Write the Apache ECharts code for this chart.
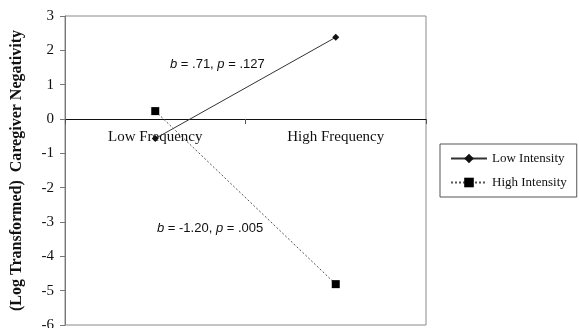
<!DOCTYPE html>
<html>
<head>
<meta charset="utf-8">
<script src="https://cdn.jsdelivr.net/npm/echarts@6/dist/echarts.min.js"></script>
<style>
  html, body { margin: 0; padding: 0; background: #fff; }
  #chart { width: 579px; height: 328px; }
</style>
</head>
<body>
<div id="chart"></div>
<script>
// data
var categories = ['Low Frequency', 'High Frequency'];
var lowIntensity = [-0.57, 2.38];
var highIntensity = [0.23, -4.81];
var yTicks = { min: -6, max: 3, interval: 1 };

var serif = '"Liberation Serif", "DejaVu Serif", serif';
var sans = '"Liberation Sans", "Noto Sans", sans-serif';

var chart = echarts.init(document.getElementById('chart'));

var option = {
  backgroundColor: '#ffffff',
  animation: false,
  grid: {
    left: 65,
    right: 153,
    top: 16,
    bottom: 3,
    outerBoundsMode: 'none',
    containLabel: false,
    show: true,
    borderColor: '#8a8a8a',
    borderWidth: 1
  },
  legend: {
    orient: 'vertical',
    left: 440,
    top: 144,
    width: 137,
    padding: [8, 10, 8, 10],
    itemGap: 11,
    itemWidth: 36,
    itemHeight: 12,
    borderColor: '#555',
    borderWidth: 1,
    textStyle: { fontFamily: serif, fontSize: 13, color: '#111' },
    data: ['Low Intensity', 'High Intensity']
  },
  xAxis: {
    type: 'category',
    data: categories,
    position: 'bottom',
    offset: 0,
    axisLine: { onZero: false, lineStyle: { color: '#111', width: 1.2 } },
    axisTick: { show: true, length: 5, lineStyle: { color: '#555' } },
    axisLabel: { fontFamily: serif, fontSize: 15, color: '#111', margin: 11 },
    splitLine: { show: false }
  },
  yAxis: {
    type: 'value',
    min: yTicks.min,
    max: yTicks.max,
    interval: yTicks.interval,
    name: '(Log Transformed)  Caregiver Negativity',
    nameLocation: 'middle',
    nameRotate: 90,
    nameGap: 40,
    nameTextStyle: { fontFamily: serif, fontSize: 16, fontWeight: 'bold', color: '#111' },
    axisLine: { show: true, lineStyle: { color: '#777' } },
    axisTick: { show: true, length: 5, lineStyle: { color: '#777' } },
    axisLabel: { fontFamily: serif, fontSize: 15, color: '#111', margin: 11 },
    splitLine: { show: false }
  },
  series: [
    {
      name: 'Low Intensity',
      type: 'line',
      data: lowIntensity,
      symbol: 'diamond',
      symbolSize: 7,
      itemStyle: { color: '#111' },
      lineStyle: { color: '#333', width: 1, type: 'solid' }
    },
    {
      name: 'High Intensity',
      type: 'line',
      data: highIntensity,
      symbol: 'rect',
      symbolSize: 8,
      itemStyle: { color: '#000' },
      lineStyle: { color: '#555', width: 1, type: [2, 2] }
    }
  ],
  graphic: [
    {
      type: 'text',
      left: 170,
      top: 58,
      style: {
        text: '{i|b} = .71, {i|p} = .127',
        font: '13px ' + sans,
        fill: '#111',
        rich: { i: { fontStyle: 'italic', fontSize: 13, fontFamily: sans } }
      }
    },
    {
      type: 'text',
      left: 157,
      top: 222,
      style: {
        text: '{i|b} = -1.20, {i|p} = .005',
        font: '13px ' + sans,
        fill: '#111',
        rich: { i: { fontStyle: 'italic', fontSize: 13, fontFamily: sans } }
      }
    }
  ]
};

chart.setOption(option);

// move the category axis (line + labels) up to y = 0, using the value scale
var zeroY = chart.convertToPixel({ yAxisIndex: 0 }, 0);
var bottomY = chart.convertToPixel({ yAxisIndex: 0 }, yTicks.min);
chart.setOption({ xAxis: { offset: -(bottomY - zeroY) } });
</script>
</body>
</html>
